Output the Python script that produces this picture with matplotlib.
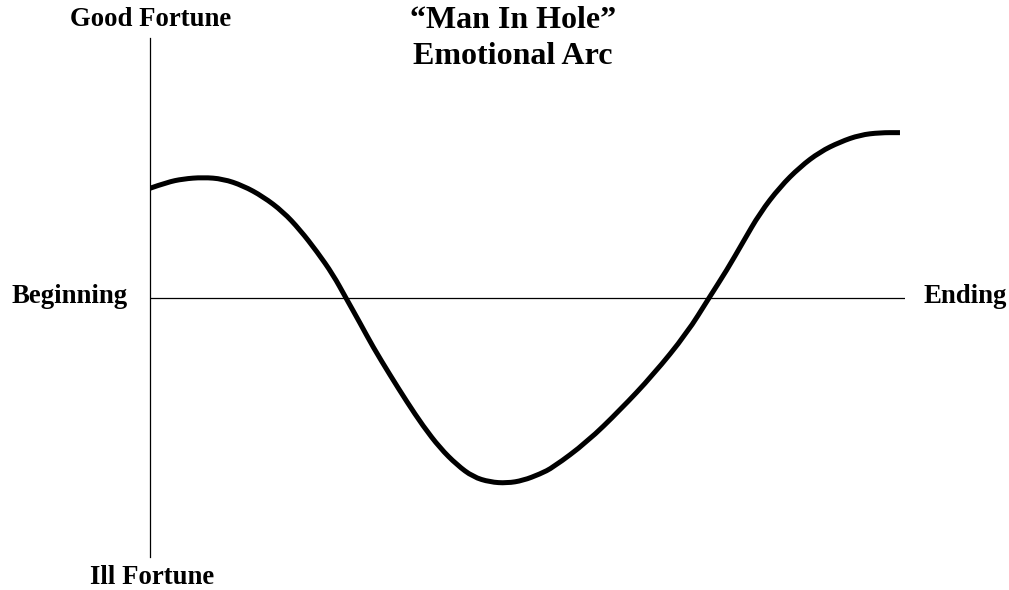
import matplotlib.pyplot as plt
from matplotlib.path import Path
from matplotlib.patches import PathPatch

# story progress (0 = beginning, 100 = ending) and fortune (-1 ill .. +1 good)
progress = [0, 2.27, 4.4, 7.07, 9.73, 12.4, 15.07, 17.73, 20, 22.27, 24.4,
            26.13, 28, 29.73, 32, 34.27, 36.4, 38.67, 40.93, 43.07, 45.33,
            47.6, 49.73, 52, 53.73, 58.27, 62.67, 67.07, 71.6, 74.53, 76.93,
            79.07, 81.33, 84, 86.67, 89.33, 92, 94.67, 97.33, 100]
fortune = [0.422, 0.445, 0.458, 0.464, 0.458, 0.432, 0.390, 0.332, 0.262,
           0.178, 0.090, 0.0, -0.096, -0.188, -0.296, -0.400, -0.492,
           -0.577, -0.642, -0.688, -0.708, -0.712, -0.702, -0.677, -0.652,
           -0.554, -0.431, -0.296, -0.135, 0.0, 0.108, 0.215, 0.327, 0.427,
           0.504, 0.562, 0.600, 0.627, 0.636, 0.636]

W, H = 1009, 590
fig = plt.figure(figsize=(W / 100, H / 100), dpi=100)
ax = fig.add_axes([150 / W, (H - 557) / H, (905 - 150) / W, (557 - 38) / H])
ax.set_xlim(0, 100.67)
ax.set_ylim(-259 / 260, 1)

# smooth the read points with quadratic bezier segments between midpoints
pts = list(zip(progress, fortune))
verts = [pts[0]]
codes = [Path.MOVETO]
for i in range(1, len(pts) - 1):
    mid = ((pts[i][0] + pts[i + 1][0]) / 2, (pts[i][1] + pts[i + 1][1]) / 2)
    verts += [pts[i], mid]
    codes += [Path.CURVE3, Path.CURVE3]
verts.append(pts[-1])
codes.append(Path.LINETO)
ax.add_patch(PathPatch(Path(verts, codes), facecolor='none',
                       edgecolor='black', lw=3.6, capstyle='butt'))
ax.axhline(0, color='black', lw=0.9)

for s in ['top', 'right', 'bottom']:
    ax.spines[s].set_visible(False)
ax.spines['left'].set_linewidth(0.9)
ax.set_xticks([])
ax.set_yticks([])

font = dict(family='Liberation Serif', weight='bold', fontsize=19.3,
            ha='center', va='center')

def label(x, y, s, **kw):
    fig.text(x / W, 1 - y / H, s, **{**font, **kw})

label(151, 20, 'Good Fortune')
label(152, 577, 'Ill Fortune')
label(70, 297, 'Beginning')
label(965, 297, 'Ending')
label(513, 20, '\u201cMan In Hole\u201d', fontsize=23)
label(513, 57, 'Emotional Arc', fontsize=23)

fig.savefig('out.png', dpi=100)
